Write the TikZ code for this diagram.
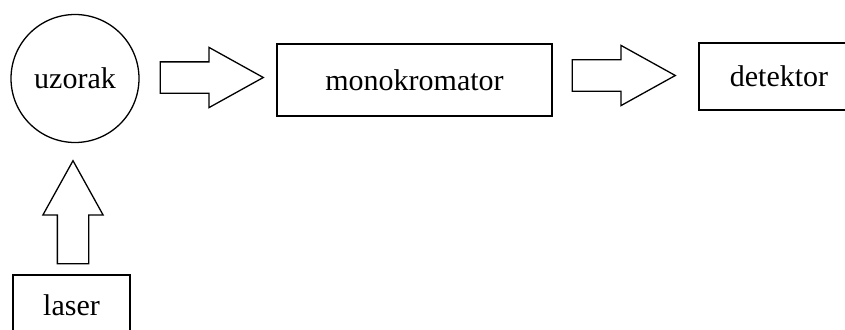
\documentclass[tikz,border=0pt]{standalone}
\usepackage{fontspec}
\setmainfont{Liberation Serif}
\usetikzlibrary{shapes.arrows}
\tikzset{basic/.style={draw,fill=none,line width=1.3pt,inner sep=0pt,
                       text badly centered,font=\fontsize{30}{36}\selectfont}}
\tikzset{sample/.style={basic,circle,minimum size=128pt}}
\tikzset{device/.style={basic,rectangle}}
\tikzset{bigarrow/.style={basic,single arrow,minimum height=103pt,
                          inner sep=15pt,anchor=tail,
                          single arrow head extend=14.5pt,
                          single arrow tip angle=58}}

\begin{document}
\begin{tikzpicture}[x=1pt,y=-1pt]
    \useasboundingbox (0,0) rectangle (845,329);
    \clip (0,0) rectangle (845,329);
    % Draw sample and devices
    \node[sample] (sample) at (75,78.5) {uzorak};
    \node[device, minimum width=275pt, minimum height=72pt] (mono) at (414.5,80) {monokromator};
    \node[device, minimum width=160pt, minimum height=67pt] (det) at (779,76.5) {detektor};
    \node[device, minimum width=117pt, minimum height=60pt] (laser) at (71.5,305) {laser};
    % Draw block arrows between them
    \node[bigarrow] (arr1) at ([xshift=20pt,yshift=1pt]sample.east) {};
    \node[bigarrow] (arr2) at ([xshift=19pt,yshift=4.5pt]mono.east) {};
    \node[bigarrow, shape border rotate=90] (arr3) at ([xshift=1.5pt,yshift=10pt]laser.north) {};
\end{tikzpicture}
\end{document}
